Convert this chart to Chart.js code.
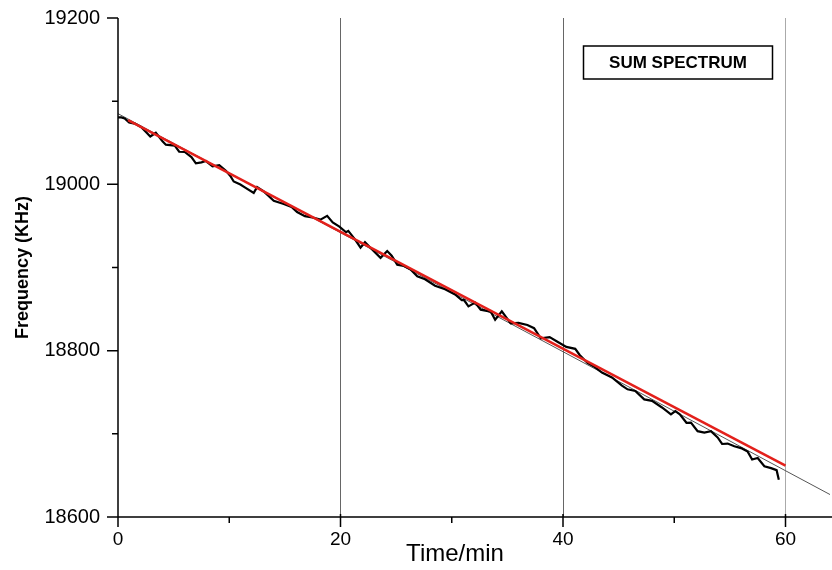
<!DOCTYPE html>
<html>
<head>
<meta charset="utf-8">
<title>Sum spectrum frequency drift</title>
<script src="https://cdn.jsdelivr.net/npm/chart.js@4.4.1/dist/chart.umd.min.js"></script>
<style>
  html, body { margin: 0; padding: 0; background: #fff; }
  #wrap { width: 832px; height: 570px; }
</style>
</head>
<body>
<div id="wrap"><canvas id="freqChart" width="832" height="570"></canvas></div>
<script>
const timeMin = [0.0, 0.3, 0.6, 1.0, 1.5, 2.1, 2.6, 2.9, 3.4, 4.0,
  4.3, 5.1, 5.5, 6.0, 6.6, 7.0, 7.5, 7.9, 8.5, 9.1,
  9.7, 10.1, 10.4, 11.0, 11.4, 12.2, 12.5, 13.1, 14.0, 14.9,
  15.6, 16.1, 16.8, 17.6, 18.2, 18.8, 19.3, 19.9, 20.5, 20.7,
  21.3, 21.8, 22.2, 22.8, 23.6, 24.2, 24.6, 25.1, 25.7, 26.3,
  26.9, 27.6, 28.5, 29.4, 30.3, 30.9, 31.1, 31.5, 32.1, 32.6,
  33.5, 33.9, 34.5, 35.3, 36.0, 36.8, 37.4, 38.0, 38.8, 39.5,
  40.3, 41.1, 41.5, 42.2, 42.9, 43.5, 44.4, 45.3, 45.8, 46.5,
  47.3, 48.0, 48.9, 49.7, 50.1, 50.5, 51.1, 51.5, 52.1, 52.7,
  53.3, 53.9, 54.3, 54.8, 55.4, 56.0, 56.6, 57.0, 57.5, 58.1,
  58.7, 59.2, 59.4]
const freqKHz = [19080.5, 19080.4, 19079.3, 19074.5, 19073.0, 19068.7, 19061.6, 19057.5, 19062.0, 19051.8,
  19047.7, 19046.6, 19039.2, 19038.9, 19032.7, 19025.3, 19026.4, 19028.0, 19021.7, 19023.1,
  19016.3, 19010.1, 19003.4, 18999.8, 18996.4, 18989.7, 18996.6, 18991.4, 18980.1, 18976.4,
  18972.8, 18966.7, 18961.8, 18959.8, 18957.6, 18962.1, 18954.2, 18949.2, 18942.4, 18944.0,
  18933.8, 18923.8, 18930.4, 18922.2, 18911.6, 18919.8, 18914.2, 18903.4, 18901.8, 18897.6,
  18889.4, 18885.9, 18878.1, 18873.8, 18867.5, 18860.7, 18860.9, 18853.3, 18857.8, 18849.3,
  18847.0, 18837.2, 18847.4, 18832.9, 18833.4, 18830.8, 18827.0, 18814.8, 18816.3, 18810.8,
  18804.6, 18802.2, 18794.8, 18785.2, 18779.9, 18773.7, 18767.8, 18758.0, 18753.5, 18751.6,
  18741.4, 18739.7, 18731.7, 18723.3, 18727.3, 18723.5, 18713.3, 18713.5, 18703.2, 18701.4,
  18703.2, 18695.6, 18687.8, 18688.3, 18685.0, 18682.8, 18678.6, 18669.2, 18670.9, 18661.1,
  18658.8, 18656.3, 18644.9]

// red fit line and the thin extended trend line
const redFitX = [0.9, 60]
const redFitY = [19077.2, 18661.7]
const trendX = [0, 64]
const trendY = [19085, 18627]

// axes
const xMajor = [0, 20, 40, 60]
const xMinor = [10, 30, 50]
const yMajor = [18600, 18800, 19000, 19200]
const yMinor = [18700, 18900, 19100]

const toPoints = (xs, ys) => xs.map((x, i) => ({ x: x, y: ys[i] }))

// axis lines, tick marks, x title and the label box
const decorations = {
  id: "decorations",
  afterDatasetsDraw(chart) {
    const ctx = chart.ctx
    const area = chart.chartArea
    const xs = chart.scales.x
    const ys = chart.scales.y
    ctx.save()
    ctx.strokeStyle = "#000"
    ctx.lineWidth = 1.5

    ctx.beginPath()
    ctx.moveTo(area.left, area.top)
    ctx.lineTo(area.left, area.bottom)
    ctx.moveTo(area.left, area.bottom)
    ctx.lineTo(chart.width, area.bottom)

    xMajor.forEach((v) => {
      const px = xs.getPixelForValue(v)
      ctx.moveTo(px, area.bottom - 3)
      ctx.lineTo(px, area.bottom + 10)
    })
    xMinor.forEach((v) => {
      const px = xs.getPixelForValue(v)
      ctx.moveTo(px, area.bottom)
      ctx.lineTo(px, area.bottom + 6)
    })
    yMajor.forEach((v) => {
      const py = ys.getPixelForValue(v)
      ctx.moveTo(area.left - 11, py)
      ctx.lineTo(area.left, py)
    })
    yMinor.forEach((v) => {
      const py = ys.getPixelForValue(v)
      ctx.moveTo(area.left - 6, py)
      ctx.lineTo(area.left, py)
    })
    ctx.stroke()

    // x axis title
    ctx.fillStyle = "#000"
    ctx.font = "24px 'Liberation Sans', Arial, sans-serif"
    ctx.textAlign = "center"
    ctx.textBaseline = "alphabetic"
    ctx.fillText("Time/min", 455, 561)

    // label box
    ctx.lineWidth = 1.5
    ctx.strokeRect(583.5, 46, 189, 33)
    ctx.font = "bold 17px 'Liberation Sans', Arial, sans-serif"
    ctx.textBaseline = "middle"
    ctx.fillText("SUM SPECTRUM", 678, 63)
    ctx.restore()
  },
}

const canvas = document.getElementById("freqChart")

new Chart(canvas, {
  type: "scatter",
  data: {
    datasets: [
      {
        label: "fit",
        data: toPoints(redFitX, redFitY),
        showLine: true,
        borderColor: "#e3201b",
        borderWidth: 2.5,
        pointRadius: 0,
      },
      {
        label: "sum spectrum",
        data: toPoints(timeMin, freqKHz),
        showLine: true,
        borderColor: "#000",
        borderWidth: 2.2,
        pointRadius: 0,
        tension: 0,
      },
      {
        label: "trend",
        data: toPoints(trendX, trendY),
        showLine: true,
        borderColor: "#555",
        borderWidth: 1,
        pointRadius: 0,
      },
    ],
  },
  options: {
    responsive: false,
    animation: false,
    layout: { autoPadding: false, padding: { top: 18, right: 2, left: 0, bottom: 0 } },
    plugins: {
      legend: { display: false },
      tooltip: { enabled: false },
    },
    scales: {
      x: {
        type: "linear",
        min: 0,
        max: 64,
        afterBuildTicks: (s) => {
          s.ticks = xMajor.map((v) => ({ value: v }))
        },
        afterFit: (s) => {
          s.height = 53
          s.paddingLeft = 0
          s.paddingRight = 0
        },
        ticks: {
          padding: 11,
          color: "#000",
          font: { family: "'Liberation Sans', Arial, sans-serif", size: 19 },
          maxRotation: 0,
          callback: (v) => String(v),
        },
        grid: {
          drawTicks: false,
          lineWidth: 1,
          color: (c) => {
            const v = c.tick ? c.tick.value : null
            if (v === 20 || v === 40) return "#666"
            if (v === 60) return "#aaa"
            return "rgba(0,0,0,0)"
          },
        },
        border: { display: false },
      },
      y: {
        type: "linear",
        min: 18600,
        max: 19200,
        afterBuildTicks: (s) => {
          s.ticks = yMajor.map((v) => ({ value: v }))
        },
        afterFit: (s) => {
          s.width = 118
          s.paddingTop = 0
          s.paddingBottom = 0
        },
        ticks: {
          padding: 18,
          color: "#000",
          font: { family: "'Liberation Sans', Arial, sans-serif", size: 20 },
          callback: (v) => String(v),
        },
        grid: { display: false, drawTicks: false },
        border: { display: false },
        title: {
          display: true,
          text: "Frequency (KHz)",
          color: "#000",
          font: { family: "'Liberation Sans', Arial, sans-serif", size: 18, weight: "bold" },
          padding: { top: 12, bottom: 0 },
        },
      },
    },
  },
  plugins: [decorations],
})
</script>
</body>
</html>
